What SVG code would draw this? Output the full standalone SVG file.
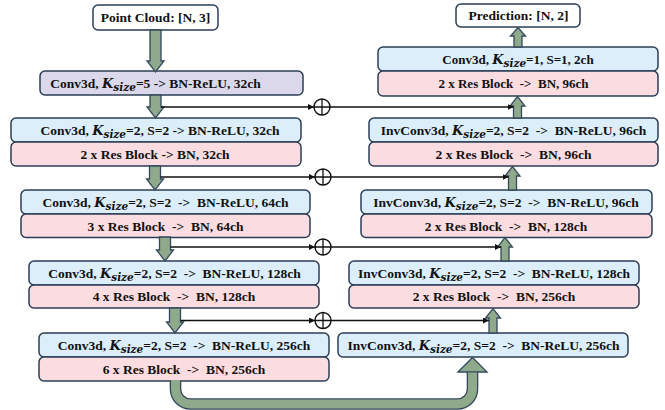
<svg xmlns="http://www.w3.org/2000/svg" width="665" height="410" viewBox="0 0 665 410">
  <style>
    .box { stroke: #2c3e56; stroke-width: 1.5; }
    .io { fill: #ffffff; }
    .conv { fill: #dbeefa; }
    .res { fill: #fbdce0; }
    .stem { fill: #dcd8eb; }
    text { font-family: "Liberation Serif", "Times New Roman", serif; font-weight: bold; font-size: 13.5px; fill: #111; text-anchor: middle; white-space: pre; }
    .k { font-family: "DejaVu Serif", serif; font-style: italic; font-size: 13px; }
    .sub { font-family: "DejaVu Serif", serif; font-style: italic; font-size: 10.5px; }
    .small { font-size: 13px; }
    .flow { fill: #8fa98b; stroke: #34495e; stroke-width: 1.3; stroke-linejoin: miter; }
    .skip { stroke: #111; stroke-width: 1.3; fill: none; }
    .sum { stroke: #111; stroke-width: 1.4; fill: #fff; }
  </style>
  <defs>
    <marker id="tip" markerUnits="userSpaceOnUse" markerWidth="7" markerHeight="6" refX="6" refY="3" orient="auto">
      <path d="M0,0 L6,3 L0,6 Z" fill="#111"/>
    </marker>
  </defs>

  <!-- encoder -->
  <g id="input">
    <rect class="box io" x="93" y="5" width="125" height="25" rx="5"/>
    <text x="155.5" y="22">Point Cloud: [N, 3]</text>
  </g>
  <g id="stem">
    <rect class="box stem" x="40" y="71" width="263" height="24" rx="5"/>
    <text x="155.5" y="87.5">Conv3d, <tspan class="k">K</tspan><tspan class="sub" dy="3">size</tspan><tspan dy="-3">=5 -&gt; BN-ReLU, 32ch</tspan></text>
  </g>
  <g id="enc1">
    <rect class="box conv" x="11" y="118" width="290" height="24" rx="5"/>
    <rect class="box res" x="11" y="142" width="290" height="24" rx="5"/>
    <text x="160" y="134.5">Conv3d, <tspan class="k">K</tspan><tspan class="sub" dy="3">size</tspan><tspan dy="-3">=2, S=2 -&gt; BN-ReLU, 32ch</tspan></text>
    <text x="155" y="158.5">2 x Res Block -&gt; BN, 32ch</text>
  </g>
  <g id="enc2">
    <rect class="box conv" x="21" y="190" width="289" height="24" rx="5"/>
    <rect class="box res" x="21" y="214" width="289" height="23.5" rx="5"/>
    <text x="165.5" y="206.5">Conv3d, <tspan class="k">K</tspan><tspan class="sub" dy="3">size</tspan><tspan dy="-3">=2, S=2  -&gt;  BN-ReLU, 64ch</tspan></text>
    <text x="165.5" y="230.5">3 x Res Block  -&gt;  BN, 64ch</text>
  </g>
  <g id="enc3">
    <rect class="box conv" x="29" y="261" width="290" height="24" rx="5"/>
    <rect class="box res" x="29" y="285" width="290" height="23" rx="5"/>
    <text x="174.5" y="277.5">Conv3d, <tspan class="k">K</tspan><tspan class="sub" dy="3">size</tspan><tspan dy="-3">=2, S=2  -&gt;  BN-ReLU, 128ch</tspan></text>
    <text x="174" y="301">4 x Res Block  -&gt;  BN, 128ch</text>
  </g>
  <g id="enc4">
    <rect class="box conv" x="39" y="333" width="290" height="24" rx="5"/>
    <rect class="box res" x="39" y="357" width="290" height="24" rx="5"/>
    <text x="184" y="349.5">Conv3d, <tspan class="k">K</tspan><tspan class="sub" dy="3">size</tspan><tspan dy="-3">=2, S=2  -&gt;  BN-ReLU, 256ch</tspan></text>
    <text x="184" y="373.5">6 x Res Block  -&gt;  BN, 256ch</text>
  </g>

  <!-- decoder -->
  <g id="output">
    <rect class="box io" x="456" y="4" width="124" height="23" rx="5"/>
    <text x="518.5" y="20">Prediction: [N, 2]</text>
  </g>
  <g id="head">
    <rect class="box conv" x="378" y="47" width="280" height="24" rx="5"/>
    <rect class="box res" x="378" y="71" width="280" height="25" rx="5"/>
    <text class="small" x="518" y="63.5">Conv3d, <tspan class="k">K</tspan><tspan class="sub" dy="3">size</tspan><tspan dy="-3">=1, S=1, 2ch</tspan></text>
    <text class="small" x="513.5" y="88">2 x Res Block  -&gt;  BN, 96ch</text>
  </g>
  <g id="dec1">
    <rect class="box conv" x="369" y="118" width="289" height="24" rx="5"/>
    <rect class="box res" x="369" y="142" width="289" height="24" rx="5"/>
    <text x="513.5" y="134.5">InvConv3d, <tspan class="k">K</tspan><tspan class="sub" dy="3">size</tspan><tspan dy="-3">=2, S=2  -&gt;  BN-ReLU, 96ch</tspan></text>
    <text x="513.5" y="158.5">2 x Res Block  -&gt;  BN, 96ch</text>
  </g>
  <g id="dec2">
    <rect class="box conv" x="361" y="190" width="291" height="24" rx="5"/>
    <rect class="box res" x="361" y="214" width="291" height="23.5" rx="5"/>
    <text x="506" y="206.5">InvConv3d, <tspan class="k">K</tspan><tspan class="sub" dy="3">size</tspan><tspan dy="-3">=2, S=2  -&gt;  BN-ReLU, 96ch</tspan></text>
    <text x="506" y="230.5">2 x Res Block  -&gt;  BN, 128ch</text>
  </g>
  <g id="dec3">
    <rect class="box conv" x="349" y="261" width="290" height="24" rx="5"/>
    <rect class="box res" x="349" y="285" width="290" height="23" rx="5"/>
    <text x="494" y="277.5">InvConv3d, <tspan class="k">K</tspan><tspan class="sub" dy="3">size</tspan><tspan dy="-3">=2, S=2  -&gt;  BN-ReLU, 128ch</tspan></text>
    <text x="494" y="301">2 x Res Block  -&gt;  BN, 256ch</text>
  </g>
  <g id="dec4">
    <rect class="box conv" x="338" y="333" width="290" height="24" rx="5"/>
    <text x="483.5" y="349.5">InvConv3d, <tspan class="k">K</tspan><tspan class="sub" dy="3">size</tspan><tspan dy="-3">=2, S=2  -&gt;  BN-ReLU, 256ch</tspan></text>
  </g>

  <g id="connectors">
    <!-- main flow, encoder (down) -->
    <path class="flow" d="M150,30 V61 H147 L155.5,72 L164,61 H161 V30 Z"/>
    <path class="flow" d="M150,95 V107 H147 L155.5,118 L164,107 H161 V95 Z"/>
    <path class="flow" d="M149.5,166 V179 H146.5 L155,190 L163.5,179 H160.5 V166 Z"/>
    <path class="flow" d="M159.5,237 V250 H156.5 L165,261 L173.5,250 H170.5 V237 Z"/>
    <path class="flow" d="M169.5,308 V322 H166.5 L175,333 L183.5,322 H180.5 V308 Z"/>

    <!-- main flow, decoder (up) -->
    <path class="flow" d="M514,47 V36 H510.5 L518,27.5 L525.5,36 H522 V47 Z"/>
    <path class="flow" d="M513.5,118 V106 H510 L517.5,96.5 L525,106 H521.5 V118 Z"/>
    <path class="flow" d="M508.5,190 V176 H505 L512.5,166.5 L520,176 H516.5 V190 Z"/>
    <path class="flow" d="M501,261 V247 H497.5 L505,237.5 L512.5,247 H509 V261 Z"/>
    <path class="flow" d="M489,333 V318 H485.5 L493,308.5 L500.5,318 H497 V333 Z"/>

    <!-- bottleneck bend -->
    <path d="M175.5,381 V389 A15,15 0 0 0 190.5,404 H457.5 A15,15 0 0 0 472.5,389 V371" fill="none" stroke="#34495e" stroke-width="11.6"/>
    <path d="M458,372 L472.5,357.5 L487,372 Z" fill="#8fa98b" stroke="#34495e" stroke-width="1.3" stroke-linejoin="miter"/>
    <path d="M175.5,380 V389 A15,15 0 0 0 190.5,404 H457.5 A15,15 0 0 0 472.5,389 V372.5" fill="none" stroke="#8fa98b" stroke-width="9"/>

    <!-- skip connections -->
    <line class="skip" x1="161" y1="107" x2="314" y2="107" marker-end="url(#tip)"/>
    <line class="skip" x1="330" y1="107" x2="513.5" y2="107" marker-end="url(#tip)"/>
    <line class="skip" x1="160.5" y1="177" x2="315" y2="177" marker-end="url(#tip)"/>
    <line class="skip" x1="331" y1="177" x2="508.5" y2="177" marker-end="url(#tip)"/>
    <line class="skip" x1="170.5" y1="247" x2="315" y2="247" marker-end="url(#tip)"/>
    <line class="skip" x1="331" y1="247" x2="501" y2="247" marker-end="url(#tip)"/>
    <line class="skip" x1="180.5" y1="320.5" x2="315" y2="320.5" marker-end="url(#tip)"/>
    <line class="skip" x1="331" y1="320.5" x2="489" y2="320.5" marker-end="url(#tip)"/>

    <!-- element-wise sums -->
    <g>
      <circle class="sum" cx="322" cy="107" r="8"/>
      <path class="skip" d="M314,107 H330 M322,99 V115"/>
    </g>
    <g>
      <circle class="sum" cx="323" cy="177" r="8"/>
      <path class="skip" d="M315,177 H331 M323,169 V185"/>
    </g>
    <g>
      <circle class="sum" cx="323" cy="247" r="8"/>
      <path class="skip" d="M315,247 H331 M323,239 V255"/>
    </g>
    <g>
      <circle class="sum" cx="323" cy="320.5" r="8"/>
      <path class="skip" d="M315,320.5 H331 M323,312.5 V328.5"/>
    </g>
  </g>
</svg>
